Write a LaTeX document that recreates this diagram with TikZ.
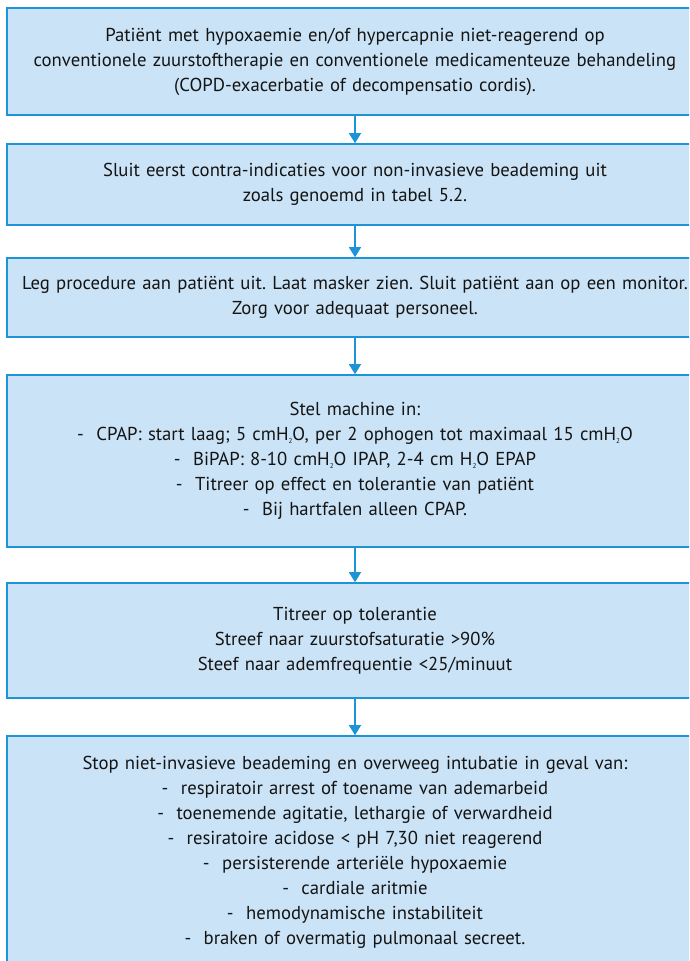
\documentclass[tikz,border=0pt]{standalone}
\usepackage{fontspec}
\setmainfont{PT Sans}
\usepackage{tikz}
\usetikzlibrary{arrows.meta}
\definecolor{boxfill}{RGB}{203,227,246}
\definecolor{boxline}{RGB}{28,148,214}
\newcommand{\hto}{H\raisebox{-0.35ex}{\scriptsize 2}O}
\frenchspacing
\begin{document}
\begin{tikzpicture}[x=1pt, y=-1pt,
    stepbox/.style={draw=boxline, line width=1.6pt, fill=boxfill, rectangle,
      minimum width=696pt, text width=690pt, align=center, inner sep=0pt,
      font=\fontsize{18.7pt}{25pt}\selectfont, text=black!92},
    flow/.style={draw=boxline, line width=1.5pt, -{Triangle[width=12pt,length=10pt]}}]
        % Page
        \useasboundingbox (0,0) rectangle (689,961);
        \clip (0,0) rectangle (689,961);
        % Boxes
        \node[stepbox, minimum height=107pt] (patient) at (355,61.5)
          {Patiënt met hypoxaemie en/of hypercapnie niet-reagerend op\\
           conventionele zuurstoftherapie en conventionele medicamenteuze behandeling\\
           (COPD-exacerbatie of decompensatio cordis).};
        \node[stepbox, minimum height=81pt] (contra) at (355,184.5)
          {Sluit eerst contra-indicaties voor non-invasieve beademing uit\\
           zoals genoemd in tabel 5.2.};
        \node[stepbox, minimum height=79pt] (uitleg) at (355,297.5)
          {Leg procedure aan patiënt uit. Laat masker zien. Sluit patiënt aan op een monitor.\\
           Zorg voor adequaat personeel.};
        \node[stepbox, minimum height=172pt] (machine) at (355,461)
          {Stel machine in:\\
           -\ \ CPAP: start laag; 5 cm\hto, per 2 ophogen tot maximaal 15 cm\hto\\
           -\ \ BiPAP: 8-10 cm\hto{} IPAP, 2-4 cm \hto{} EPAP\\
           -\ \ Titreer op effect en tolerantie van patiënt\\
           -\ \ Bij hartfalen alleen CPAP.};
        \node[stepbox, minimum height=115pt] (titreer) at (355,640.5)
          {Titreer op tolerantie\\
           Streef naar zuurstofsaturatie >90\%\\
           Steef naar ademfrequentie <25/minuut};
        \node[stepbox, minimum height=232pt] (stop) at (355,852)
          {Stop niet-invasieve beademing en overweeg intubatie in geval van:\\
           -\ \ respiratoir arrest of toename van ademarbeid\\
           -\ \ toenemende agitatie, lethargie of verwardheid\\
           -\ \ resiratoire acidose < pH 7,30 niet reagerend\\
           -\ \ persisterende arteriële hypoxaemie\\
           -\ \ cardiale aritmie\\
           -\ \ hemodynamische instabiliteit\\
           -\ \ braken of overmatig pulmonaal secreet.};
        % Arrows
        \draw[flow] (patient) -- (contra);
        \draw[flow] (contra) -- (uitleg);
        \draw[flow] (uitleg) -- (machine);
        \draw[flow] (machine) -- (titreer);
        \draw[flow] (titreer) -- (stop);
      \end{tikzpicture}
\end{document}
